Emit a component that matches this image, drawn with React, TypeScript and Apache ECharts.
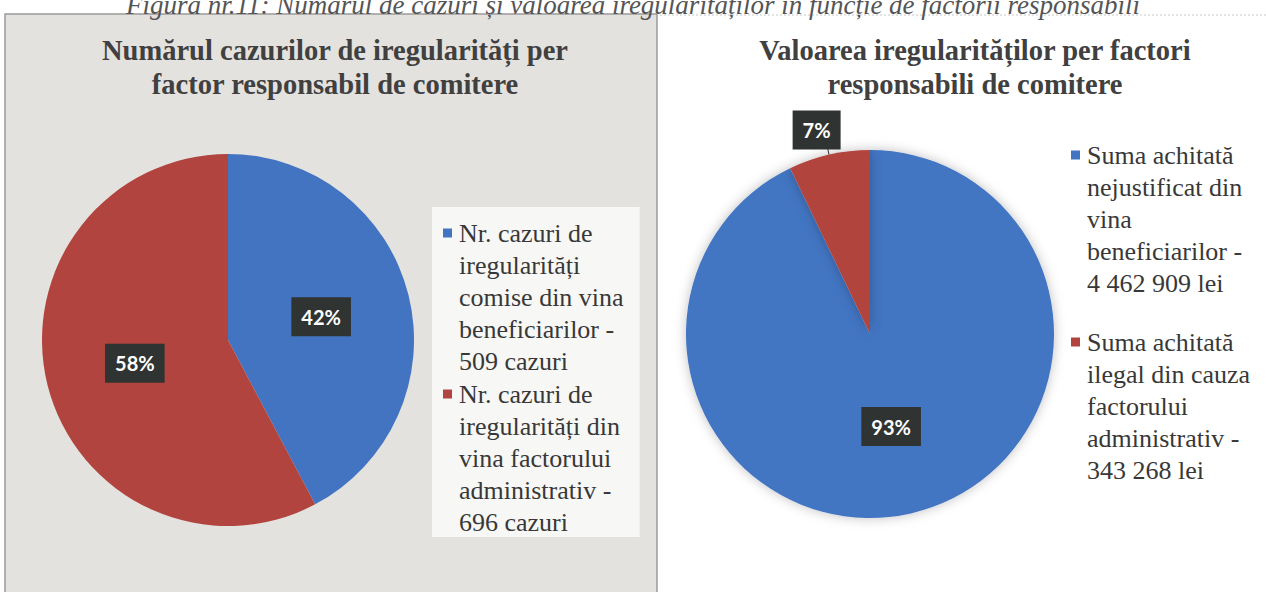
import React, { useEffect, useRef } from "react";
import * as echarts from "echarts";

const caption =
  "Figura nr.11: Numărul de cazuri și valoarea iregularităților în funcție de factorii responsabili";

const leftTitle = "Numărul cazurilor de iregularități per\nfactor responsabil de comitere";
const rightTitle = "Valoarea iregularităților per factori\nresponsabili de comitere";

const leftNames = [
  "Nr. cazuri de iregularități comise din vina beneficiarilor - 509 cazuri",
  "Nr. cazuri de iregularități din vina factorului administrativ - 696 cazuri",
];
const leftValues = [509, 696];
const leftLegendLines = [
  ["Nr. cazuri de", "iregularități", "comise din vina", "beneficiarilor -", "509 cazuri"],
  ["Nr. cazuri de", "iregularități din", "vina factorului", "administrativ -", "696 cazuri"],
];

const rightNames = [
  "Suma achitată nejustificat din vina beneficiarilor - 4 462 909 lei",
  "Suma achitată ilegal din cauza factorului administrativ - 343 268 lei",
];
const rightValues = [4462909, 343268];
const rightLegendLines = [
  ["Suma achitată", "nejustificat din", "vina", "beneficiarilor -", "4 462 909 lei"],
  ["Suma achitată", "ilegal din cauza", "factorului", "administrativ -", "343 268 lei"],
];

const BLUE = "#4374c2";
const RED = "#b1443e";

export default function App() {
  const ref = useRef<HTMLDivElement>(null);

  useEffect(() => {
    if (!ref.current) return;
    const chart = echarts.init(ref.current, null, { renderer: "svg" });

    const legendText = {
      fontSize: 26,
      fontFamily: "Liberation Serif",
      color: "#383838",
      lineHeight: 32,
    };
    const rich = {
      t: legendText,
      mk0: { width: 9, height: 9, backgroundColor: BLUE, verticalAlign: "middle" },
      mk1: { width: 9, height: 9, backgroundColor: RED, verticalAlign: "middle" },
      sp: { width: 7 },
      ind: { width: 16 },
    };
    const makeFormatter = (names: string[], lines: string[][]) => (name: string) => {
      const idx = names.indexOf(name);
      return lines[idx]
        .map((l, i) => (i === 0 ? `{mk${idx}|}{sp|}{t|${l}}` : `{ind|}{t|${l}}`))
        .join("\n");
    };

    const labelStyle = {
      color: "#ffffff",
      fontWeight: "bold",
      fontSize: 20,
      fontFamily: "Lato",
      backgroundColor: "#2f3332",
      padding: [10, 10, 9, 10],
    };

    const pctFormatter = (p: any) => Math.round(p.percent) + "%";

    const titleStyle = {
      fontSize: 28.5,
      fontWeight: "bold",
      fontFamily: "Liberation Serif",
      color: "#404040",
      lineHeight: 34,
    };

    chart.setOption({
      animation: false,
      backgroundColor: "#ffffff",
      graphic: [
        {
          type: "rect",
          shape: { x: 5, y: 14, width: 652, height: 590 },
          style: { fill: "#e4e2de", stroke: "#9a9a9a", lineWidth: 1.5 },
          z: -10,
        },
        {
          type: "line",
          shape: { x1: 660, y1: 15, x2: 1266, y2: 15 },
          style: { stroke: "#c8c8c8", lineWidth: 1, lineDash: [2, 2] },
          z: -10,
        },
        {
          type: "text",
          x: 633,
          y: -9,
          style: {
            text: caption,
            fontSize: 27,
            fontStyle: "italic",
            fontFamily: "Liberation Serif",
            fill: "#555555",
            textAlign: "center",
          },
        },
      ],
      title: [
        {
          text: leftTitle,
          left: 330,
          top: 28,
          textAlign: "center",
          textStyle: titleStyle,
        },
        {
          text: rightTitle,
          left: 970,
          top: 28,
          textAlign: "center",
          textStyle: titleStyle,
        },
      ],
      legend: [
        {
          data: leftNames,
          orient: "vertical",
          left: 432,
          top: 207,
          icon: "none",
          itemWidth: 0,
          itemGap: 7,
          backgroundColor: "#f7f7f5",
          padding: [13, 16, 2, 6],
          formatter: makeFormatter(leftNames, leftLegendLines),
          textStyle: { rich },
          selectedMode: false,
        },
        {
          data: rightNames,
          orient: "vertical",
          left: 1066,
          top: 142,
          icon: "none",
          itemWidth: 0,
          itemGap: 33,
          padding: 0,
          formatter: makeFormatter(rightNames, rightLegendLines),
          textStyle: { rich },
          selectedMode: false,
        },
      ],
      series: [
        {
          type: "pie",
          center: [228, 340],
          radius: 186,
          startAngle: 90,
          clockwise: true,
          color: [BLUE, RED],
          label: { position: "inside", formatter: pctFormatter, ...labelStyle },
          labelLine: { show: false },
          emphasis: { disabled: true },
          data: leftNames.map((n, i) => ({ name: n, value: leftValues[i] })),
        },
        {
          type: "pie",
          center: [870, 334],
          radius: 184,
          startAngle: 90,
          clockwise: true,
          color: [BLUE, RED],
          itemStyle: { shadowBlur: 12, shadowColor: "rgba(0,0,0,0.25)" },
          label: { position: "inside", formatter: pctFormatter, ...labelStyle },
          labelLine: { show: true, length: 20, length2: 0, lineStyle: { color: "#333", width: 1 } },
          labelLayout: (p: any) => (p.dataIndex === 1 ? { dx: 21, dy: -5 } : {}),
          emphasis: { disabled: true },
          data: rightNames.map((n, i) =>
            i === 1
              ? { name: n, value: rightValues[i], label: { position: "outside" } }
              : { name: n, value: rightValues[i], labelLine: { show: false } }
          ),
        },
      ],
    });

    return () => chart.dispose();
  }, []);

  return (
    <div
      ref={ref}
      style={{ position: "fixed", left: 0, top: 0, width: 1266, height: 592 }}
    />
  );
}
